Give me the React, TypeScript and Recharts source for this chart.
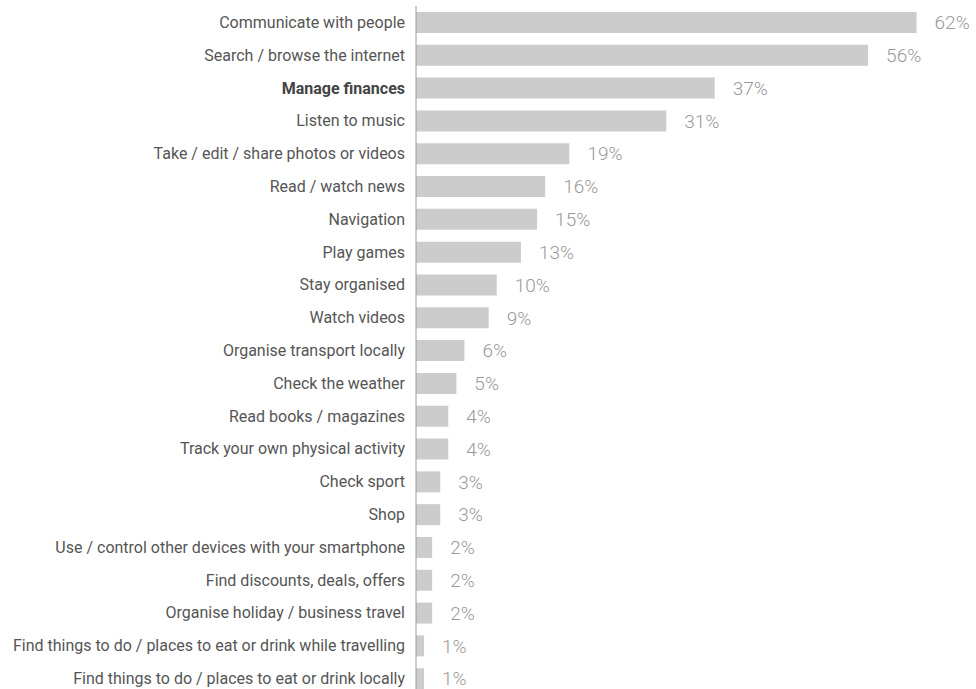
import React from "react";
import { BarChart, Bar, XAxis, YAxis, LabelList } from "recharts";

const activities = [
  "Communicate with people",
  "Search / browse the internet",
  "Manage finances",
  "Listen to music",
  "Take / edit / share photos or videos",
  "Read / watch news",
  "Navigation",
  "Play games",
  "Stay organised",
  "Watch videos",
  "Organise transport locally",
  "Check the weather",
  "Read books / magazines",
  "Track your own physical activity",
  "Check sport",
  "Shop",
  "Use / control other devices with your smartphone",
  "Find discounts, deals, offers",
  "Organise holiday / business travel",
  "Find things to do / places to eat or drink while travelling",
  "Find things to do / places to eat or drink locally",
];

const shares = [62, 56, 37, 31, 19, 16, 15, 13, 10, 9, 6, 5, 4, 4, 3, 3, 2, 2, 2, 1, 1];

const highlighted = "Manage finances";

const data = activities.map((name, i) => ({ name, value: shares[i] }));

const CategoryTick = (props: any) => {
  const { x, y, payload } = props;
  const bold = payload.value === highlighted;
  return (
    <text
      x={x}
      y={y}
      dy={5.5}
      textAnchor="end"
      fill={bold ? "#444" : "#555"}
      fontSize={16}
      fontWeight={bold ? 700 : 400}
      fontFamily="Roboto"
    >
      {payload.value}
    </text>
  );
};

export default function App() {
  return (
    <div
      style={{
        position: "fixed",
        left: 0,
        top: 0,
        width: 976,
        height: 689,
        overflow: "hidden",
        background: "#fff",
      }}
    >
      <BarChart
        width={976}
        height={700}
        data={data}
        layout="vertical"
        margin={{ top: 6, right: 11, left: 0, bottom: 5 }}
      >
        <XAxis type="number" domain={[0, 68]} hide />
        <YAxis
          type="category"
          dataKey="name"
          width={416}
          tickLine={false}
          tickSize={0}
          tickMargin={11}
          axisLine={{ stroke: "#999" }}
          tick={<CategoryTick />}
          interval={0}
        />
        <Bar dataKey="value" fill="#cccccc" barSize={21} isAnimationActive={false}>
          <LabelList
            dataKey="value"
            position="right"
            offset={18}
            formatter={(v: any) => `${v}%`}
            fill="#999"
            fontSize={19}
            fontWeight={300}
            fontFamily="Roboto"
          />
        </Bar>
      </BarChart>
    </div>
  );
}
